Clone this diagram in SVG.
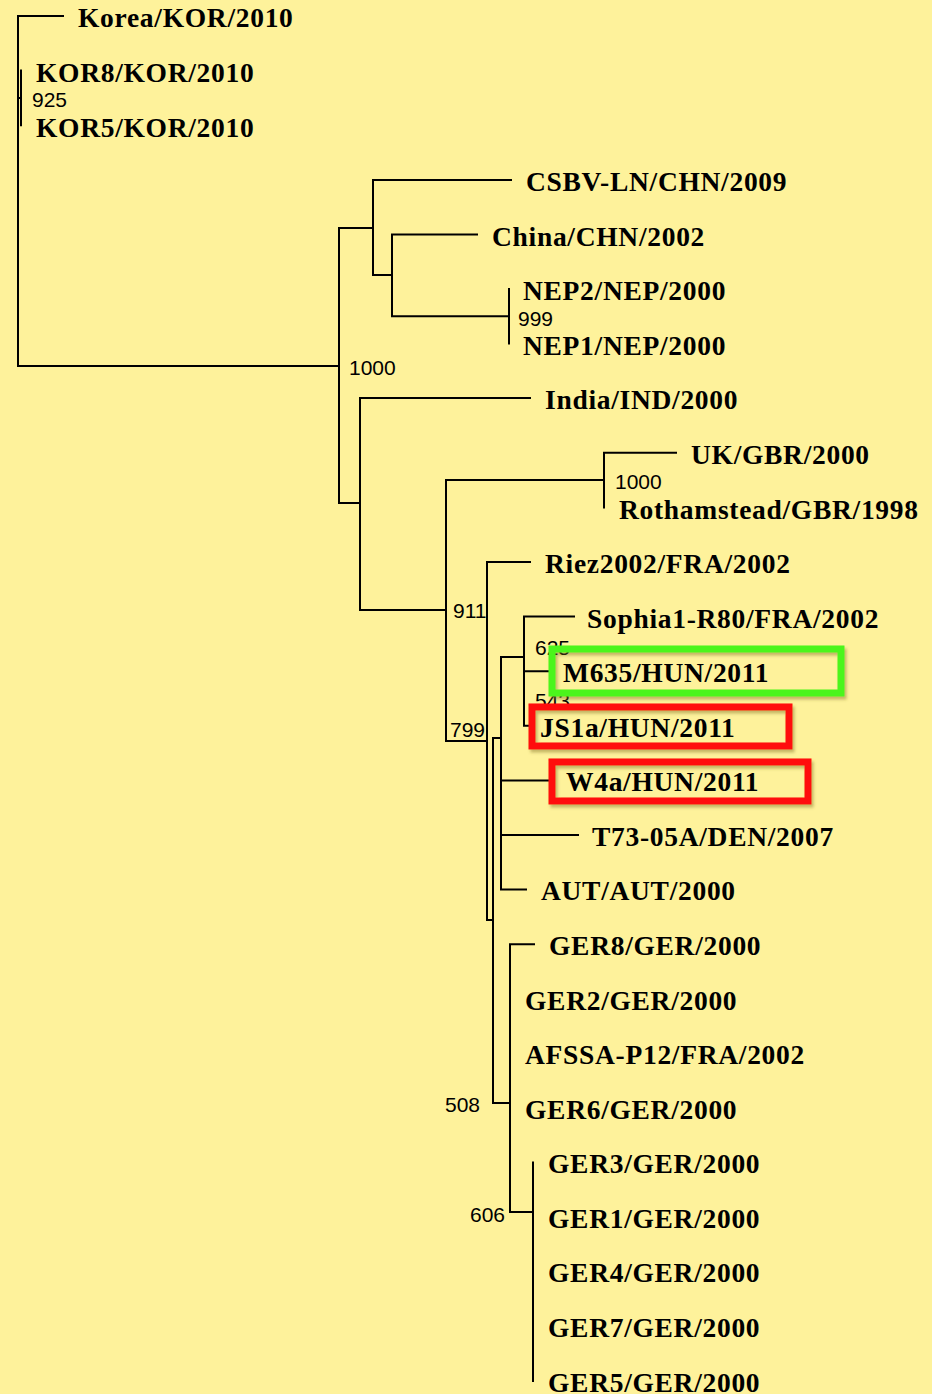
<svg xmlns="http://www.w3.org/2000/svg" width="932" height="1394" viewBox="0 0 932 1394">
  <style>
    .br { fill: none; stroke: #000; stroke-width: 2; stroke-linecap: square; }
    .taxon { font-family: "Liberation Serif", "Times New Roman", serif; font-weight: bold; font-size: 27.5px; letter-spacing: 0.7px; fill: #000; }
    .boot { font-family: "Liberation Sans", Arial, sans-serif; font-size: 21px; fill: #000; }
    .hl { fill: none; stroke-width: 7; filter: url(#shade); }
    .hl-green { stroke: #4cf51a; }
    .hl-red { stroke: #ff0d0d; }
  </style>
  <defs>
    <filter id="shade" x="-5%" y="-20%" width="110%" height="150%">
      <feDropShadow dx="2" dy="3" stdDeviation="1.5" flood-color="#7a6a20" flood-opacity="0.45"/>
    </filter>
  </defs>

  <rect width="932" height="1394" fill="#fef29b"/>

  <!-- branches -->
  <g id="connectors">
    <!-- root -->
    <path class="br" d="M18 16V366 M18 16H63 M18 98H21 M21 70.6V125.2 M18 366H339"/>
    <!-- Asian group -->
    <path class="br" d="M339 228V503 M339 228H373 M373 180V275 M373 180H511 M373 275H392 M392 234.4V316.3 M392 234.4H477 M392 316.3H509 M509 289V343.6"/>
    <!-- European group -->
    <path class="br" d="M339 503H360 M360 398V610 M360 398H530 M360 610H446 M446 480V741 M446 480H604 M604 452.8V507.4 M604 452.8H676 M446 741H487"/>
    <path class="br" d="M487 562V920 M487 562H530 M487 920H493 M493 738V1103 M493 738H501 M501 657V889.6 M501 657H524 M524 616.6V725.8 M524 616.6H574 M524 671.2H548 M524 725.8H530 M501 780.4H548 M501 835H578 M501 889.6H526"/>
    <path class="br" d="M493 1103H510 M510 944.2V1212 M510 944.2H534 M510 1212H533 M533 1162.6V1381"/>
  </g>

  <!-- bootstrap values -->
  <g id="support">
    <text class="boot" x="32" y="107">925</text>
    <text class="boot" x="349" y="375">1000</text>
    <text class="boot" x="518" y="326">999</text>
    <text class="boot" x="615" y="489">1000</text>
    <text class="boot" x="453" y="618">911</text>
    <text class="boot" x="450" y="737">799</text>
    <text class="boot" x="535" y="655">625</text>
    <text class="boot" x="535" y="708">543</text>
    <text class="boot" x="445" y="1112">508</text>
    <text class="boot" x="470" y="1222">606</text>
  </g>

  <!-- taxa -->
  <g id="t-korea"><text class="taxon" x="78" y="27">Korea/KOR/2010</text></g>
  <g id="t-kor8"><text class="taxon" x="36" y="82">KOR8/KOR/2010</text></g>
  <g id="t-kor5"><text class="taxon" x="36" y="137">KOR5/KOR/2010</text></g>
  <g id="t-csbv"><text class="taxon" x="526" y="191">CSBV-LN/CHN/2009</text></g>
  <g id="t-china"><text class="taxon" x="492" y="246">China/CHN/2002</text></g>
  <g id="t-nep2"><text class="taxon" x="523" y="300">NEP2/NEP/2000</text></g>
  <g id="t-nep1"><text class="taxon" x="523" y="355">NEP1/NEP/2000</text></g>
  <g id="t-india"><text class="taxon" x="545" y="409">India/IND/2000</text></g>
  <g id="t-uk"><text class="taxon" x="691" y="464">UK/GBR/2000</text></g>
  <g id="t-roth"><text class="taxon" x="619" y="519">Rothamstead/GBR/1998</text></g>
  <g id="t-riez"><text class="taxon" x="545" y="573">Riez2002/FRA/2002</text></g>
  <g id="t-sophia"><text class="taxon" x="587" y="628">Sophia1-R80/FRA/2002</text></g>
  <g id="t-m635">
    <rect class="hl hl-green" x="552" y="649" width="289" height="44"/>
    <text class="taxon" x="563" y="682">M635/HUN/2011</text>
  </g>
  <g id="t-js1a">
    <rect class="hl hl-red" x="532" y="707" width="257" height="39"/>
    <text class="taxon" x="540" y="737">JS1a/HUN/2011</text>
  </g>
  <g id="t-w4a">
    <rect class="hl hl-red" x="552" y="762" width="256" height="39"/>
    <text class="taxon" x="566" y="791">W4a/HUN/2011</text>
  </g>
  <g id="t-t73"><text class="taxon" x="592" y="846">T73-05A/DEN/2007</text></g>
  <g id="t-aut"><text class="taxon" x="541" y="900">AUT/AUT/2000</text></g>
  <g id="t-ger8"><text class="taxon" x="549" y="955">GER8/GER/2000</text></g>
  <g id="t-ger2"><text class="taxon" x="525" y="1010">GER2/GER/2000</text></g>
  <g id="t-afssa"><text class="taxon" x="525" y="1064">AFSSA-P12/FRA/2002</text></g>
  <g id="t-ger6"><text class="taxon" x="525" y="1119">GER6/GER/2000</text></g>
  <g id="t-ger3"><text class="taxon" x="548" y="1173">GER3/GER/2000</text></g>
  <g id="t-ger1"><text class="taxon" x="548" y="1228">GER1/GER/2000</text></g>
  <g id="t-ger4"><text class="taxon" x="548" y="1282">GER4/GER/2000</text></g>
  <g id="t-ger7"><text class="taxon" x="548" y="1337">GER7/GER/2000</text></g>
  <g id="t-ger5"><text class="taxon" x="548" y="1392">GER5/GER/2000</text></g>
</svg>
